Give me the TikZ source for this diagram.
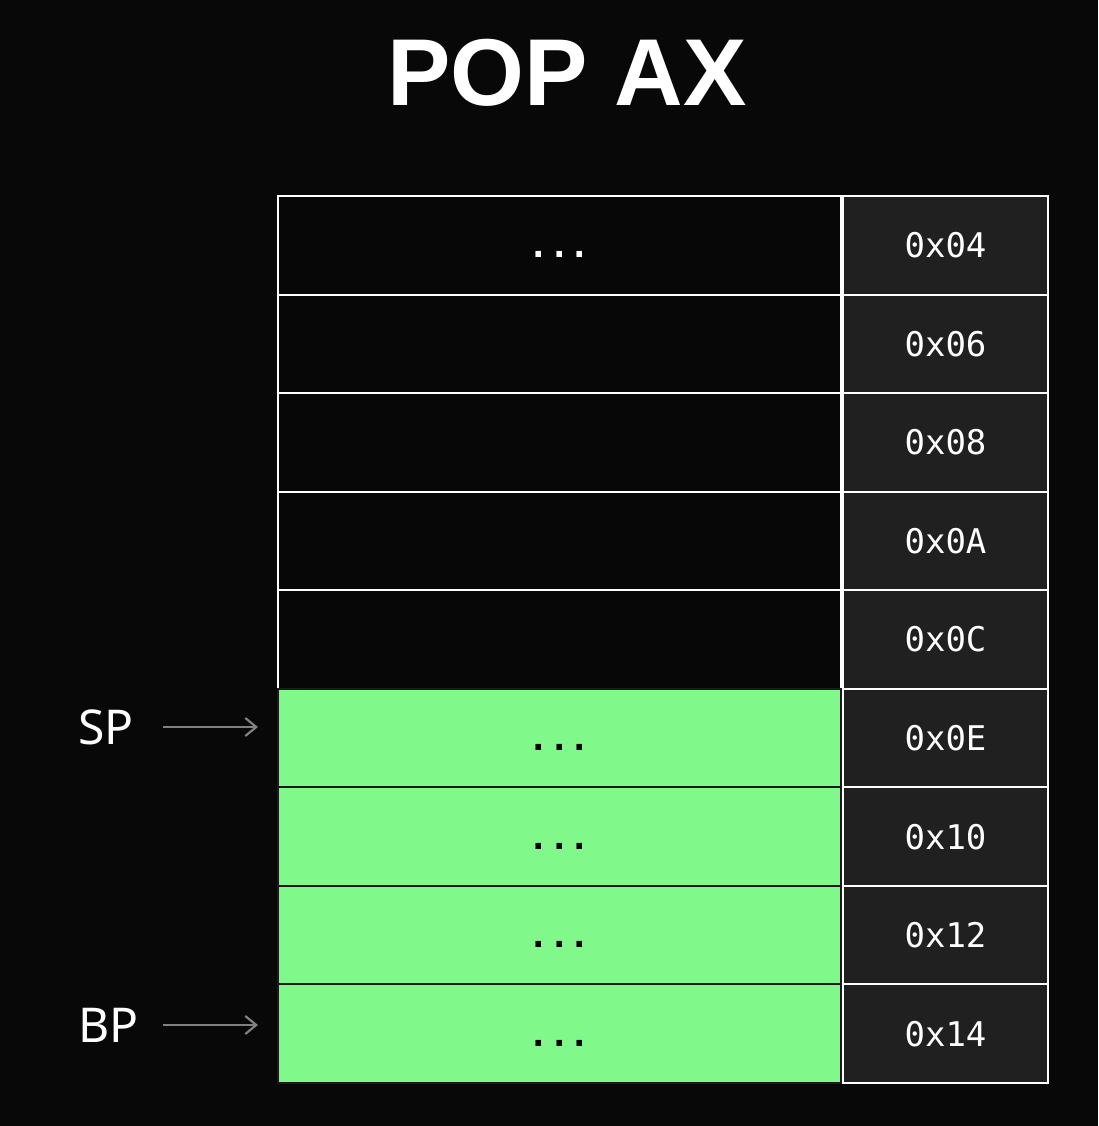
\documentclass[tikz,border=0pt]{standalone}
\usepackage{fontspec}
\setmainfont{Liberation Sans}
\newfontfamily\labf{Noto Sans}
\newfontfamily\monof{DejaVu Sans Mono}
\usetikzlibrary{arrows.meta}
\definecolor{bgc}{HTML}{080808}
\definecolor{cellc}{HTML}{070707}
\definecolor{addrc}{HTML}{202020}
\definecolor{greenc}{HTML}{80F98A}
\definecolor{sepc}{HTML}{1A1A1A}
\definecolor{arrc}{HTML}{808080}
\newcommand{\cellfont}{\monof\fontsize{34}{34}\selectfont}
\newcommand{\dotstext}{\vphantom{0}\bfseries...}
\tikzset{
  blackcell/.style={draw=white, fill=cellc, line width=2pt, minimum width=563pt, minimum height=98.56pt, inner sep=0pt, anchor=north west, text=white, font=\cellfont},
  greencell/.style={draw=sepc, fill=greenc, line width=2pt, minimum width=563pt, minimum height=98.56pt, inner sep=0pt, anchor=north west, text=black, font=\cellfont},
  addrcell/.style={draw=white, fill=addrc, line width=2pt, minimum width=205pt, minimum height=98.56pt, inner sep=0pt, anchor=north west, text=white, font=\cellfont},
  ptrlabel/.style={text=white, font=\labf\fontsize{48}{48}\selectfont, inner sep=0pt, anchor=west},
  ptrarrow/.style={draw=arrc, line width=2.2pt, -{Straight Barb[length=11pt,width=18pt]}},
}
\begin{document}
\begin{tikzpicture}[x=1pt,y=-1pt]
\fill[bgc] (0,0) rectangle (1098,1126);
\useasboundingbox (0,0) rectangle (1098,1126);
\node[text=white, font=\bfseries\fontsize{95}{95}\selectfont, inner sep=0pt] (title) at (567,73) {POP AX};
% left column
\node[blackcell] (c0) at (277,195) {\dotstext};
\node[blackcell] (c1) at (277,293.56) {};
\node[blackcell] (c2) at (277,392.12) {};
\node[blackcell] (c3) at (277,490.68) {};
\node[blackcell] (c4) at (277,589.24) {};
\node[greencell] (c5) at (277,687.8) {\dotstext};
\node[greencell] (c6) at (277,786.36) {\dotstext};
\node[greencell] (c7) at (277,884.92) {\dotstext};
\node[greencell] (c8) at (277,983.48) {\dotstext};
% right column
\node[addrcell] (a0) at (842,195) {0x04};
\node[addrcell] (a1) at (842,293.56) {0x06};
\node[addrcell] (a2) at (842,392.12) {0x08};
\node[addrcell] (a3) at (842,490.68) {0x0A};
\node[addrcell] (a4) at (842,589.24) {0x0C};
\node[addrcell] (a5) at (842,687.8) {0x0E};
\node[addrcell] (a6) at (842,786.36) {0x10};
\node[addrcell] (a7) at (842,884.92) {0x12};
\node[addrcell] (a8) at (842,983.48) {0x14};
% pointers
\node[ptrlabel] (sp) at (78,727) {SP};
\node[ptrlabel] (bp) at (78,1025) {BP};
\coordinate (spstart) at (163,727);
\coordinate (spend) at (258,727);
\coordinate (bpstart) at (163,1025);
\coordinate (bpend) at (258,1025);
\draw[ptrarrow] (spstart) -- (spend);
\draw[ptrarrow] (bpstart) -- (bpend);
\end{tikzpicture}
\end{document}
